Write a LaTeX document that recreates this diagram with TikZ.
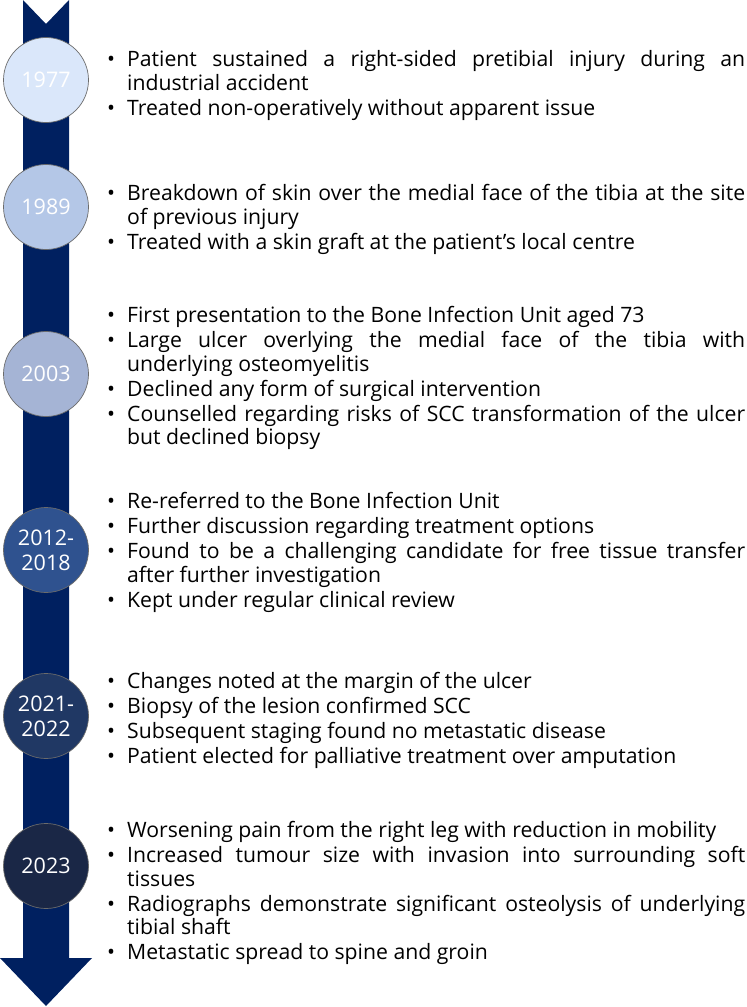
\documentclass[tikz,border=0pt]{standalone}
\usepackage{fontspec}
\setmainfont{Open Sans}
\usetikzlibrary{positioning}
\definecolor{cshaft}{HTML}{002060}
\definecolor{cyearA}{HTML}{DAE7FA}
\definecolor{cyearB}{HTML}{B4C7E7}
\definecolor{cyearC}{HTML}{A5B4D5}
\definecolor{cyearD}{HTML}{2F528F}
\definecolor{cyearE}{HTML}{203864}
\definecolor{cyearF}{HTML}{1A2746}
\definecolor{cgrey}{HTML}{6B6B6B}
\newcommand{\evt}[1]{\par\hangindent=20pt\hangafter=1\noindent\makebox[20pt][l]{\textbullet}#1\par}
\tikzset{
  year/.style={circle, draw=cgrey, line width=0.7pt, fill=#1, minimum size=85pt, inner sep=0pt,
    text=white, align=center, font=\fontsize{21.5}{25}\selectfont},
  events/.style={anchor=west, text width=638pt, inner sep=0pt, align=justify,
    font=\fontsize{21.2}{23.5}\selectfont, execute at begin node={\parskip=1.5pt}},
}
\begin{document}
\begin{tikzpicture}[x=1pt, y=-1pt]
  \useasboundingbox (0,0) rectangle (747,1007);
  % timeline arrow
  \fill[cshaft] (23,0) -- (46,24) -- (69,0) -- (69,958) -- (92,958) -- (46,1006)
    -- (0,958) -- (23,958) -- cycle;
  % year circles
  \foreach \n/\y/\c/\t in {yA/80/cyearA/1977, yB/207/cyearB/1989, yC/374/cyearC/2003,
                           yD/550/cyearD/{2012-\\2018}, yE/716/cyearE/{2021-\\2022}, yF/866/cyearF/2023} {
    \node[year=\c] (\n) at (46,\y) {\t};
  }
  % events
  \node[events] (eA) at (107,81) {%
    \evt{Patient sustained a right-sided pretibial injury during an\linebreak industrial accident}
    \evt{Treated non-operatively without apparent issue}};
  \node[events] (eB) at (107,215) {%
    \evt{Breakdown of skin over the medial face of the tibia at the site\linebreak of previous injury}
    \evt{Treated with a skin graft at the patient’s local centre}};
  \node[events] (eC) at (107,374) {%
    \evt{First presentation to the Bone Infection Unit aged 73}
    \evt{Large ulcer overlying the medial face of the tibia with\linebreak underlying osteomyelitis}
    \evt{Declined any form of surgical intervention}
    \evt{Counselled regarding risks of SCC transformation of the ulcer\linebreak but declined biopsy}};
  \node[events] (eD) at (107,548) {%
    \evt{Re-referred to the Bone Infection Unit}
    \evt{Further discussion regarding treatment options}
    \evt{Found to be a challenging candidate for free tissue transfer\linebreak after further investigation}
    \evt{Kept under regular clinical review}};
  \node[events] (eE) at (107,716) {%
    \evt{Changes noted at the margin of the ulcer}
    \evt{Biopsy of the lesion confirmed SCC}
    \evt{Subsequent staging found no metastatic disease}
    \evt{Patient elected for palliative treatment over amputation}};
  \node[events] (eF) at (107,889) {%
    \evt{Worsening pain from the right leg with reduction in mobility}
    \evt{Increased tumour size with invasion into surrounding soft\linebreak tissues}
    \evt{Radiographs demonstrate significant osteolysis of underlying\linebreak tibial shaft}
    \evt{Metastatic spread to spine and groin}};
\end{tikzpicture}
\end{document}
